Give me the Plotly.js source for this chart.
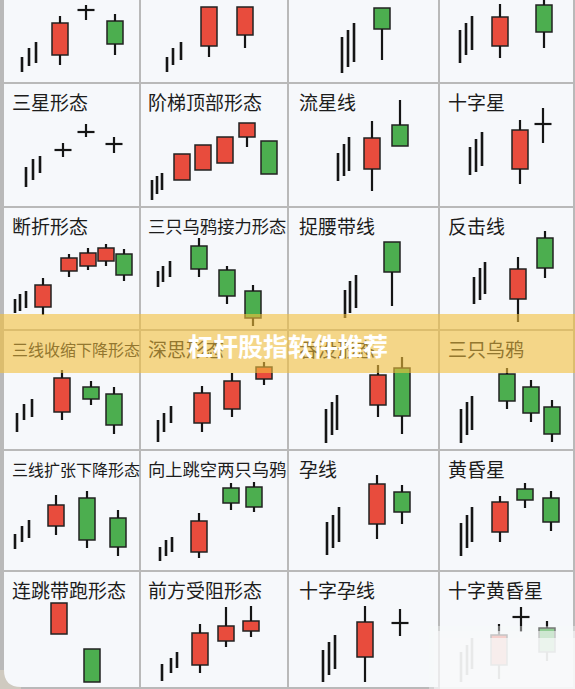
<!DOCTYPE html>
<html><head><meta charset="utf-8">
<script src="https://cdn.plot.ly/plotly-3.0.1.min.js"></script>
<style>html,body{margin:0;padding:0;background:#fff}</style>
</head><body><div id="chart" style="width:575px;height:689px"></div>
<script>
// ---- DATA (cells in row-major order: 6 rows x 4 columns) ----
const patternNames = ["", "", "", "",
  "三星形态", "阶梯顶部形态", "流星线", "十字星",
  "断折形态", "三只乌鸦接力形态", "捉腰带线", "反击线",
  "三线收缩下降形态", "深思形态", "吞没形态", "三只乌鸦",
  "三线扩张下降形态", "向上跳空两只乌鸦", "孕线", "黄昏星",
  "连跳带跑形态", "前方受阻形态", "十字孕线", "十字黄昏星"];

const bannerText = "杠杆股指软件推荐";

// thin trend lines before each pattern
const stickX = [
  [1.8,2.5,3.2],[2.6,3.2,4.0],[5.3,5.9,6.5],[2.0,2.6,3.2],
  [2.2,2.9,3.6],[1.1,1.6,2.1],[4.9,5.5,6.0],[3.0,3.6,4.2],
  [1.1,1.6,2.2],[1.7,2.2,2.9],[5.6,6.1,6.7],[3.4,4.0,4.5],
  [1.3,2.0,2.8],[1.7,2.3,3.0],[3.7,4.3,4.8],[2.1,2.7,3.2],
  [1.1,1.8,2.5],[1.9,2.5,3.1],[3.8,4.4,5.0],[2.1,2.7,3.2],
  [],[2.1,3.0,3.6],[3.4,4.0,4.6],[2.1,2.7,3.2]];
const stickLow = [
  [1.0,1.6,1.9],[1.0,1.7,2.2],[0.9,1.5,2.0],[1.9,2.7,3.2],
  [1.9,2.6,3.3],[0.6,1.2,1.6],[2.5,3.0,3.5],[3.1,3.4,4.0],
  [1.6,1.8,2.1],[4.2,4.7,5.2],[1.1,1.6,2.1],[2.5,2.9,3.5],
  [1.7,2.9,3.2],[0.7,1.7,2.6],[0.6,1.4,1.9],[0.6,1.4,1.9],
  [2.1,2.8,3.2],[0.9,1.4,1.8],[1.5,2.2,2.8],[1.4,2.2,2.8],
  [],[0.6,1.4,1.9],[0.5,1.2,1.8],[0.5,1.2,1.8]];
const stickHigh = [
  [2.5,3.4,4.0],[2.5,3.4,4.0],[4.5,5.2,5.9],[5.2,5.9,6.6],
  [3.9,4.7,5.0],[2.6,3.0,3.3],[5.3,6.2,6.9],[5.9,6.7,7.4],
  [3.0,3.5,3.8],[5.8,6.3,6.8],[3.9,4.8,5.4],[5.2,6.1,6.7],
  [3.6,4.5,5.0],[2.9,3.6,4.3],[4.0,4.7,5.4],[4.0,4.7,5.3],
  [3.6,4.4,5.0],[2.3,3.0,3.3],[4.8,5.5,6.3],[4.7,5.5,6.3],
  [],[2.3,2.9,3.5],[3.7,4.5,5.2],[3.5,4.2,4.9]];

// candles
const candleX = [
  [5.6,8.2,11.1],[6.8,10.4],[9.3],[6.0,10.4],
  [5.9,8.2,11.0],[4.1,6.2,8.4,10.6,12.8],[8.3,11.1],[8.0,10.3],
  [3.9,6.5,8.4,10.2,12.0],[5.8,8.6,11.2],[10.3],[7.8,10.5],
  [5.8,8.7,11.0],[6.1,9.1,12.3],[8.9,11.3],[6.7,9.1,11.2],
  [5.2,8.3,11.4],[5.8,9.0,11.3],[8.8,11.3],[6.0,8.5,11.1],
  [5.5,8.8],[5.9,8.5,11.0],[7.6,11.1],[5.9,8.1,10.7]];
const candleOpen = [
  [2.7,7.2,6.1],[3.6,4.7],[7.4],[3.6,7.7],
  [5.6,7.4,6.2],[2.6,3.6,4.3,6.9,6.5],[3.7,8.1],[3.7,8.2],
  [2.2,5.8,6.3,6.8,7.5],[8.3,5.9,3.8],[8.7],[3.0,9.1],
  [3.7,6.2,5.5],[2.6,4.0,7.0],[4.4,8.1],[7.5,6.2,4.2],
  [4.4,7.2,5.2],[1.8,8.2,8.3],[4.6,7.8],[3.8,8.1,7.2],
  [5.3,3.8],[2.2,4.6,5.6],[3.0,6.4],[2.2,7.0,5.9]];
const candleHigh = [
  [6.6,7.7,6.8],[7.5,7.5],[7.4],[7.8,8.4],
  [6.3,8.2,6.9],[5.2,6.1,6.9,8.3,6.5],[8.5,10.6],[8.6,9.8],
  [5.1,7.5,8.1,8.5,8.0],[9.1,6.3,4.4],[8.7],[7.2,9.8],
  [7.9,6.8,6.2],[6.3,7.6,8.7],[8.4,9.2],[8.1,6.9,4.9],
  [7.5,7.9,6.0],[5.7,8.7,8.8],[9.5,8.5],[7.4,8.7,7.9],
  [8.4,3.8],[6.3,8.0,8.1],[8.1,7.8],[6.3,8.0,6.6]];
const candleLow = [
  [1.7,6.2,2.7],[2.5,3.4],[2.2],[2.4,3.4],
  [4.9,6.9,5.3],[2.6,3.6,4.3,5.9,3.2],[1.5,6.0],[2.2,6.3],
  [1.4,5.2,5.9,6.3,4.8],[5.2,2.5,0.3],[2.3],[0.7,5.1],
  [2.9,4.4,1.5],[1.7,3.2,6.4],[3.2,1.5],[4.0,2.7,0.7],
  [3.5,2.2,1.4],[1.2,6.0,5.8],[3.1,4.6],[2.8,6.2,3.9],
  [5.3,0.5],[1.4,4.0,5.0],[0.5,5.1],[0.8,5.5,2.6]];
const candleClose = [
  [5.9,7.2,3.8],[7.5,7.5],[5.3],[6.5,5.0],
  [5.6,7.4,6.2],[5.2,6.1,6.9,8.3,3.2],[6.8,6.0],[7.6,8.2],
  [4.4,7.1,7.6,8.1,5.4],[6.0,3.3,1.1],[5.7],[6.0,6.1],
  [7.1,5.0,2.4],[5.6,6.8,8.2],[7.4,3.3],[4.8,3.6,1.5],
  [6.5,3.0,2.3],[4.9,6.7,6.3],[8.6,5.8],[6.8,7.0,4.8],
  [8.4,0.5],[5.4,6.1,6.6],[6.5,6.4],[5.2,7.0,3.5]];

// ---- LAYOUT / STYLE ----
const W = 575, H = 689;
const colEdges = [[4,139],[141,287],[289,438],[440,573]];
const rowEdges = [[0,82],[84,206],[208,329],[331,449],[451,570],[572,687]];
const labelX = [10,146,297,446];
const BODY_W = 1.6, DOJI_W = 1.7;
const RED = '#e84c3d', GREEN = '#4cae4f', INK = '#151515';
const FONT = '"Noto Sans CJK SC", "Noto Sans", sans-serif';
const px = v => v / W, py = v => 1 - v / H;

const traces = [];
const layout = {
  width: W, height: H, margin: {l:0, r:0, t:0, b:0},
  paper_bgcolor: '#b9b9b9', plot_bgcolor: '#f6f8fb',
  showlegend: false, barmode: 'overlay', hovermode: false,
  shapes: [], annotations: []
};

for (let i = 0; i < 24; i++) {
  const r = Math.floor(i / 4), c = i % 4;
  const [l, rt] = colEdges[c], [t, b] = rowEdges[r];
  const n = i + 1, sfx = n === 1 ? '' : String(n);
  const xa = 'x' + sfx, ya = 'y' + sfx;
  layout['xaxis' + sfx] = {domain: [px(l), px(rt)], range: [0, (rt - l) / 10], visible: false, fixedrange: true, anchor: ya};
  layout['yaxis' + sfx] = {domain: [py(b), py(t)], range: [0, (b - t) / 10], visible: false, fixedrange: true, anchor: xa};

  const bx = [], bb = [], bh = [], bc = [], wx = [], wy = [];
  candleX[i].forEach((x, k) => {
    const o = candleOpen[i][k], h = candleHigh[i][k], lo = candleLow[i][k], cl = candleClose[i][k];
    const top = Math.max(o, cl), bot = Math.min(o, cl);
    if (top > bot) {
      bx.push(x); bb.push(bot); bh.push(top - bot); bc.push(cl > o ? RED : GREEN);
      if (h > top) { wx.push(x, x, null); wy.push(top, h, null); }
      if (lo < bot) { wx.push(x, x, null); wy.push(lo, bot, null); }
    } else {
      wx.push(x - DOJI_W / 2, x + DOJI_W / 2, null); wy.push(o, o, null);
      wx.push(x, x, null); wy.push(lo, h, null);
    }
  });
  traces.push({type: 'bar', x: bx, y: bh, base: bb, width: BODY_W,
    marker: {color: bc, line: {color: '#222', width: 1.5}}, xaxis: xa, yaxis: ya, hoverinfo: 'skip'});

  const sx = [], sy = [];
  stickX[i].forEach((x, k) => { sx.push(x, x, null); sy.push(stickLow[i][k], stickHigh[i][k], null); });
  traces.push({type: 'scatter', mode: 'lines', x: sx, y: sy, xaxis: xa, yaxis: ya,
    line: {color: INK, width: 2.6}, hoverinfo: 'skip'});
  traces.push({type: 'scatter', mode: 'lines', x: wx, y: wy, xaxis: xa, yaxis: ya,
    line: {color: INK, width: 2.2}, hoverinfo: 'skip'});

  const name = patternNames[i];
  if (name) {
    let size = 19;
    if (name.length >= 8) size = c === 0 ? 16 : 17.3;
    layout.annotations.push({
      text: name, xref: 'paper', yref: 'paper', x: px(labelX[c]), y: py(t + 17.5),
      xanchor: 'left', yanchor: 'middle', showarrow: false,
      font: {family: FONT, size: size, color: r === 3 ? '#93772f' : '#1c1c1c'}
    });
  }
}

// banner overlay
layout.shapes.push({type: 'rect', xref: 'paper', yref: 'paper', x0: 0, x1: 1, y0: py(373), y1: py(314),
  fillcolor: 'rgba(243,192,60,0.6)', line: {width: 0}, layer: 'above'});
layout.annotations.push({text: bannerText, xref: 'paper', yref: 'paper', x: px(288), y: py(345),
  xanchor: 'center', yanchor: 'middle', showarrow: false,
  font: {family: FONT, size: 25, color: '#ffffff', weight: 700}});

// blurred watermark corner (bottom right)
layout.shapes.push({type: 'rect', xref: 'paper', yref: 'paper', x0: px(429), x1: 1, y0: 0, y1: py(626),
  fillcolor: 'rgba(248,249,250,0.4)', line: {width: 0}, layer: 'above'});
layout.shapes.push({type: 'rect', xref: 'paper', yref: 'paper', x0: px(434), x1: 1, y0: 0, y1: py(631),
  fillcolor: 'rgba(248,249,250,0.6)', line: {width: 0}, layer: 'above'});
layout.shapes.push({type: 'rect', xref: 'paper', yref: 'paper', x0: px(440), x1: 1, y0: 0, y1: py(638),
  fillcolor: 'rgba(248,249,250,0.7)', line: {width: 0}, layer: 'above'});

// rounded bottom-left corner
const cp = (x, y) => px(x).toFixed(5) + ',' + py(y).toFixed(5);
layout.shapes.push({type: 'path', xref: 'paper', yref: 'paper',
  path: 'M' + cp(0, 670) + ' L' + cp(4, 670) + ' Q' + cp(4, 687) + ' ' + cp(21, 687) + ' L' + cp(21, 689) + ' L' + cp(0, 689) + ' Z',
  fillcolor: '#cfcac0', line: {width: 0}, layer: 'above'});

Plotly.newPlot('chart', traces, layout, {displayModeBar: false, staticPlot: true});
</script>
</body></html>
